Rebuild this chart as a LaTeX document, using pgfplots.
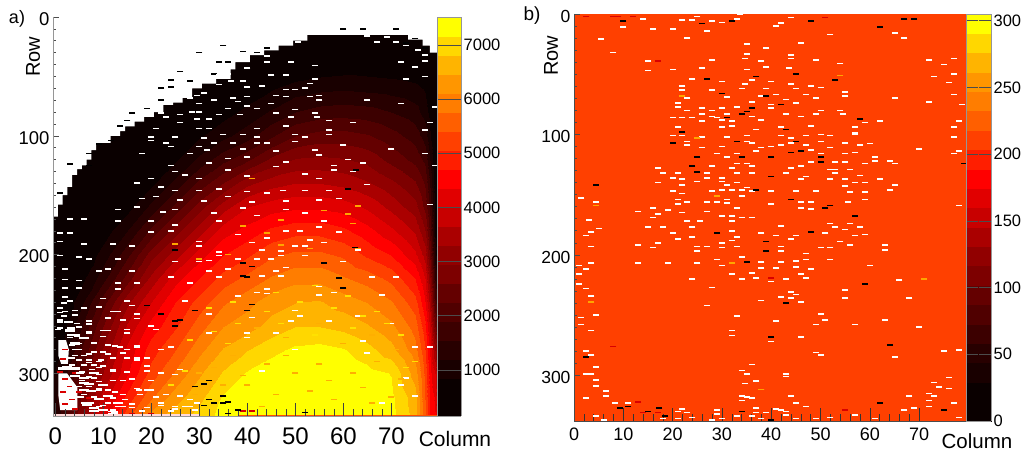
\documentclass[border=0pt]{standalone}
\usepackage{fontspec}
\setmainfont{Liberation Sans}
\usepackage{pgfplots}
\usepackage{pgfplotstable}
\pgfplotsset{compat=1.18}
\definecolor{axgray}{RGB}{150,150,150}
\pgfplotsset{
  colormap={roothot}{rgb255=(10,0,0) rgb255=(10,0,0) rgb255=(25,0,0) rgb255=(40,0,0) rgb255=(60,0,0) rgb255=(80,0,0)
    rgb255=(100,0,0) rgb255=(125,0,0) rgb255=(145,0,0) rgb255=(170,0,0) rgb255=(200,0,0)
    rgb255=(225,0,0) rgb255=(255,0,0) rgb255=(255,30,0) rgb255=(255,64,0) rgb255=(255,95,0)
    rgb255=(255,125,0) rgb255=(255,150,0) rgb255=(255,180,0) rgb255=(255,215,0) rgb255=(255,255,0)},
  colormap access=piecewise constant,
  spk/.style={only marks, mark=-, mark size=3pt, mark options={line width=1.6pt}, forget plot},
  spkw/.style={spk, color=white},
  spkk/.style={spk, color=black},
  spkr/.style={spk, color=red!85!black},
  spky/.style={spk, color=orange!70!yellow},
  spkn/.style={spk, color={rgb,255:red,255;green,175;blue,0}},
  spkm/.style={spk, color={rgb,255:red,255;green,225;blue,0}},
  spkb/.style={spk, color=white, mark size=5pt, mark options={line width=2.2pt}},
}
\pgfplotstableread[row sep=\\]{
c r v\\
-0.5 0 300\\ 5 0 300\\ 10 0 300\\ 15 0 300\\ 20 0 300\\ 25 0 300\\ 30 0 300\\ 35 0 300\\ 40 0 300\\ 45 0 300\\ 50 0 300\\ 55 0 300\\ 60 0 300\\ 65 0 300\\ 70 0 300\\ 75 0 300\\ 77 0 300\\ 78 0 300\\ 79 0 300\\ 79.5 0 300\\
-0.5 20 300\\ 5 20 300\\ 10 20 300\\ 15 20 300\\ 20 20 300\\ 25 20 300\\ 30 20 300\\ 35 20 300\\ 40 20 300\\ 45 20 300\\ 50 20 300\\ 55 20 350\\ 60 20 350\\ 65 20 350\\ 70 20 350\\ 75 20 300\\ 77 20 300\\ 78 20 300\\ 79 20 300\\ 79.5 20 300\\
-0.5 40 300\\ 5 40 300\\ 10 40 300\\ 15 40 300\\ 20 40 300\\ 25 40 300\\ 30 40 300\\ 35 40 300\\ 40 40 300\\ 45 40 350\\ 50 40 450\\ 55 40 550\\ 60 40 600\\ 65 40 600\\ 70 40 550\\ 75 40 500\\ 77 40 450\\ 78 40 350\\ 79 40 250\\ 79.5 40 250\\
-0.5 60 300\\ 5 60 300\\ 10 60 300\\ 15 60 300\\ 20 60 300\\ 25 60 300\\ 30 60 350\\ 35 60 450\\ 40 60 600\\ 45 60 800\\ 50 60 1000\\ 55 60 1100\\ 60 60 1150\\ 65 60 1100\\ 70 60 1050\\ 75 60 950\\ 77 60 800\\ 78 60 500\\ 79 60 300\\ 79.5 60 250\\
-0.5 80 200\\ 5 80 200\\ 10 80 200\\ 15 80 200\\ 20 80 300\\ 25 80 350\\ 30 80 500\\ 35 80 700\\ 40 80 950\\ 45 80 1250\\ 50 80 1550\\ 55 80 1700\\ 60 80 1750\\ 65 80 1700\\ 70 80 1550\\ 75 80 1350\\ 77 80 1050\\ 78 80 700\\ 79 80 350\\ 79.5 80 300\\
-0.5 100 200\\ 5 100 200\\ 10 100 200\\ 15 100 250\\ 20 100 350\\ 25 100 500\\ 30 100 800\\ 35 100 1100\\ 40 100 1400\\ 45 100 1850\\ 50 100 2250\\ 55 100 2400\\ 60 100 2400\\ 65 100 2300\\ 70 100 2050\\ 75 100 1750\\ 77 100 1400\\ 78 100 900\\ 79 100 400\\ 79.5 100 350\\
-0.5 120 200\\ 5 120 200\\ 10 120 200\\ 15 120 300\\ 20 120 450\\ 25 120 800\\ 30 120 1300\\ 35 120 1800\\ 40 120 2200\\ 45 120 2700\\ 50 120 3000\\ 55 120 3050\\ 60 120 3000\\ 65 120 2850\\ 70 120 2500\\ 75 120 2150\\ 77 120 1800\\ 78 120 1200\\ 79 120 500\\ 79.5 120 400\\
-0.5 140 200\\ 5 140 200\\ 10 140 250\\ 15 140 400\\ 20 140 750\\ 25 140 1300\\ 30 140 2000\\ 35 140 2600\\ 40 140 3200\\ 45 140 3500\\ 50 140 3650\\ 55 140 3650\\ 60 140 3550\\ 65 140 3350\\ 70 140 3050\\ 75 140 2650\\ 77 140 2200\\ 78 140 1500\\ 79 140 600\\ 79.5 140 450\\
-0.5 160 150\\ 5 160 200\\ 10 160 400\\ 15 160 700\\ 20 160 1300\\ 25 160 2000\\ 30 160 2800\\ 35 160 3500\\ 40 160 4000\\ 45 160 4200\\ 50 160 4300\\ 55 160 4300\\ 60 160 4200\\ 65 160 3950\\ 70 160 3550\\ 75 160 3100\\ 77 160 2500\\ 78 160 1800\\ 79 160 700\\ 79.5 160 500\\
-0.5 180 150\\ 5 180 250\\ 10 180 650\\ 15 180 1200\\ 20 180 2000\\ 25 180 2800\\ 30 180 3500\\ 35 180 4200\\ 40 180 4500\\ 45 180 4800\\ 50 180 4950\\ 55 180 4950\\ 60 180 4800\\ 65 180 4500\\ 70 180 4100\\ 75 180 3600\\ 77 180 3000\\ 78 180 2100\\ 79 180 800\\ 79.5 180 600\\
-0.5 200 150\\ 5 200 450\\ 10 200 1000\\ 15 200 1800\\ 20 200 2800\\ 25 200 3500\\ 30 200 4200\\ 35 200 4700\\ 40 200 5000\\ 45 200 5350\\ 50 200 5500\\ 55 200 5500\\ 60 200 5350\\ 65 200 5000\\ 70 200 4700\\ 75 200 4100\\ 77 200 3500\\ 78 200 2500\\ 79 200 1000\\ 79.5 200 700\\
-0.5 220 200\\ 5 220 650\\ 10 220 1400\\ 15 220 2400\\ 20 220 3400\\ 25 220 4200\\ 30 220 4700\\ 35 220 5200\\ 40 220 5500\\ 45 220 5800\\ 50 220 6000\\ 55 220 6000\\ 60 220 5800\\ 65 220 5600\\ 70 220 5300\\ 75 220 4700\\ 77 220 4000\\ 78 220 3000\\ 79 220 1500\\ 79.5 220 1200\\
-0.5 240 250\\ 5 240 1000\\ 10 240 2100\\ 15 240 3200\\ 20 240 4000\\ 25 240 4700\\ 30 240 5200\\ 35 240 5700\\ 40 240 6000\\ 45 240 6300\\ 50 240 6450\\ 55 240 6500\\ 60 240 6300\\ 65 240 6100\\ 70 240 5800\\ 75 240 5200\\ 77 240 4400\\ 78 240 3500\\ 79 240 2000\\ 79.5 240 1700\\
-0.5 260 300\\ 5 260 1400\\ 10 260 2600\\ 15 260 3700\\ 20 260 4500\\ 25 260 5000\\ 30 260 5600\\ 35 260 6100\\ 40 260 6300\\ 45 260 6600\\ 50 260 6800\\ 55 260 6800\\ 60 260 6700\\ 65 260 6500\\ 70 260 6200\\ 75 260 5600\\ 77 260 4800\\ 78 260 3900\\ 79 260 2600\\ 79.5 260 2200\\
-0.5 280 400\\ 5 280 1800\\ 10 280 3000\\ 15 280 4100\\ 20 280 4900\\ 25 280 5400\\ 30 280 6000\\ 35 280 6500\\ 40 280 6800\\ 45 280 7050\\ 50 280 7250\\ 55 280 7300\\ 60 280 7200\\ 65 280 6950\\ 70 280 6600\\ 75 280 5900\\ 77 280 5100\\ 78 280 4300\\ 79 280 3300\\ 79.5 280 2800\\
-0.5 300 800\\ 5 300 2200\\ 10 300 3300\\ 15 300 4300\\ 20 300 5200\\ 25 300 5800\\ 30 300 6400\\ 35 300 6850\\ 40 300 7200\\ 45 300 7400\\ 50 300 7500\\ 55 300 7500\\ 60 300 7450\\ 65 300 7300\\ 70 300 7150\\ 75 300 6300\\ 77 300 5300\\ 78 300 4500\\ 79 300 4000\\ 79.5 300 3500\\
-0.5 320 1000\\ 5 320 2500\\ 10 320 3800\\ 15 320 4800\\ 20 320 5700\\ 25 320 6300\\ 30 320 6700\\ 35 320 7200\\ 40 320 7400\\ 45 320 7500\\ 50 320 7600\\ 55 320 7600\\ 60 320 7500\\ 65 320 7400\\ 70 320 7250\\ 75 320 6600\\ 77 320 5400\\ 78 320 4600\\ 79 320 4300\\ 79.5 320 3800\\
-0.5 340 1200\\ 5 340 2800\\ 10 340 4200\\ 15 340 5400\\ 20 340 6400\\ 25 340 6700\\ 30 340 7000\\ 35 340 7300\\ 40 340 7450\\ 45 340 7500\\ 50 340 7600\\ 55 340 7600\\ 60 340 7500\\ 65 340 7400\\ 70 340 7300\\ 75 340 6700\\ 77 340 5500\\ 78 340 4700\\ 79 340 4400\\ 79.5 340 4000\\
}\leftmesh
\pgfplotstableread[row sep=\\]{
c r v\\
0 0 205\\ 80 0 205\\
0 340 205\\ 80 340 205\\
}\rightmesh
\begin{document}
\begin{tikzpicture}[x=1pt,y=1pt]
\useasboundingbox (0,0) rectangle (1025,452);
\begin{axis}[
  at={(53pt,36pt)}, anchor=south west, scale only axis, width=384pt, height=399pt,
  xmin=-0.5, xmax=79.5, ymin=0, ymax=336, y dir=reverse, clip=true, axis on top,
  point meta min=150, point meta max=7517,
  axis x line*=bottom, axis y line*=left,
  axis line style={axgray, -, line width=0.9pt},
  xtick={0,10,...,70}, ytick=\empty,
  minor x tick num=4,
  tick align=inside, tick style={black!75, line width=0.5pt},
  major tick length=13pt, minor tick length=7pt,
  xticklabel style={font=\fontsize{24}{24}\selectfont, yshift=-8pt},
  /pgf/number format/assume math mode=true,
  colorbar,
  colorbar style={at={(parent axis.right of north east)}, anchor=north west, xshift=-9pt,
    width=24pt, ytick={1000,2000,...,7000}, y dir=normal, scale only axis,
    yticklabel pos=right, tick align=inside, major tick length=13pt,
    tick style={black!70, line width=0.6pt},
    axis line style={axgray},
    yticklabel style={font=\fontsize{16.5}{16.5}\selectfont, xshift=-1pt},
    /pgf/number format/1000 sep={}, /pgf/number format/assume math mode=true},
]
\addplot[surf, shader=interp, mesh/cols=20, point meta=explicit, forget plot] table[x=c,y=r,meta=v] {\leftmesh};
\addplot[const plot, fill=white, draw=none, forget plot] coordinates {
 (-0.5,168)(0.5,158)(1.5,150)(2.5,143)(3.5,133)(4.5,128)(5.5,125)(6.5,120)(7.5,112)(8.5,106)(10.5,106)(11.5,100)(13.5,96)(14.5,92)(16.5,88)(18.5,84)(20.5,80)(22.5,74)(24.5,72)(26.5,68)(28.5,60)(30.5,56)(33.5,52)(36.5,44)(37.5,38)(40.5,32)(43.5,28)(46.5,24)(49.5,20)(52.5,15)(70,15)(73.5,19)(76.5,24)(78,30)(79.5,39)(79.5,-2)(-0.5,-2)};
\addplot[fill=white, draw=none, forget plot] coordinates {(0.6,272)(2.2,272)(2.8,280)(2.6,292)(1.2,292)(0.6,285)};
\addplot[fill=white, draw=none, forget plot] coordinates {(0.6,300)(2.4,300)(3.5,306)(4.6,312)(4.6,331)(1,331)(0.6,318)};
\addplot[spkb] coordinates {(3,296)(4,302)(6,308)(6,314)(5,320)(6.5,327)(8,332)(12,333)(3,287)(1.5,296)(4,275)(2.5,295)(4,296)(5,300)(6,304)(7,309)(7.5,315)(7,325)(8,329)(10,331)(9,322)(11,319)(4,268)(3,264)(6,270)(8,300)(10,310)(13,325)};
\addplot[spkr] coordinates {(2,305)(3,311)(1.5,316)(3.5,322)(2,326)(4,300)(2,280)(1.5,288)(4,330)(5,316)(7,321)(1,299)};
% black outliers above the edge
\addplot[spkk] coordinates {(60,10)(64,10)(71,10)(30,30)(35,24)(39,29)(34,38)(26,46)(24,53)(28,54)(22,60)(24,59)(22,70)(16,81)(13.5,92)(11.5,104)(7,115)(3,124)(7,125)(75,18)(73,22)(77,26)(44,26)(42,30)(33,48)(36,38)(19,77)(15,87)(9,107)(1,148)};
% white dead pixels
\addplot[spkw] coordinates {(48.5,21)(50.5,21)(65,16)(67,21)(69,17)(71,21)(73,24)(75.5,28)(77,32)(72,38)(75,42)(77,37)(41,28)(44,33)(44,38)(49,38)(40,43)(45,49)(48,49)(54,41)(54,52)(53,56)(73,52)(77,50)(34,49)(36,48)(36.5,54)(39,54)(40,59)(43,58)(34,57)(31,64)(29.5,66)(48,61)(50,61)(52,60)(48,67)(46,66)(55,66)(55,70)(53,67)(65,70)(72,73)(79,76)(28,68)(30,73)(33,70)(37,68)(40,67)(38,71)(40,75)(42,77)(45,73)(50,78)(54,81)(54.5,84)(22,81)(23,84)(26,82)(28.5,80)(30,80)(29.5,86)(32,86)(34,82)(36,77)(38.5,82)(49,84)(46,81)(62,89)(57,87)(78,89)(21,94)(26,89)(30,94)(32,94)(42,94)(48,92)(57,95)(77,95)(20,101)(25,101)(31,102)(35,99)(39,99)(42,101)(50,99)(52,101)(57,99)(20,104)(23,106)(24,109)(30,109)(33,106)(37,106)(42,106)(44,106)(50,105)(60,108)(70,111)(18,115)(28,115)(31.5,112)(39,111)(46,113)(54,112)(77,115)(79,125)(24,125)(32,123)(36,119)(40,118)(48,122)(55,116)(58,125)(61,120)(64,123)(20,136)(25,130)(27,133)(30,136)(36,129)(40,134)(46,126)(52,132)(55,136)(58,129)(62,130)(17,140)(22,143)(25,146)(30,146)(34,145)(40,147)(44,148)(47.5,146)(52,146)(57,146)(65,141)(18,153)(21,151)(26,154)(31,155)(36,151)(41,156)(48,155)(55,154)(59,153)(78,158)(13,162)(17,160)(22.5,164)(25,162)(33,165)(39,161)(48,162)(52,165)(3,170)(6,170)(13,172)(20,172)(25,175)(34,172)(42,167)(56,172)};
\addplot[spkw] coordinates {(1,182)(3,182)(12,191)(6,191)(1,189)(16,193)(20,181)(24,180)(30,189)(30,193)(34,198)(38,183)(41,190)(48,180)(51,180)(55,177)(59,181)(56,190)(53,188)(50,193)(52,193)(43,196)(47,197)(44,186)(5,202)(1,201)(7,204)(13,204)(25,206)(30,206)(32,205)(34,201)(38,204)(42,204)(45,204)(47,201)(52,201)(60,206)(63,196)(9,214)(11,212)(2,212)(16,214)(32,214)(36,212)(43,218)(46,214)(48,211)(24,219)(34,219)(47,218)(66,219)(71,219)(2,221)(5,222)(2,228)(13,224)(17,224)(5,228)(13,229)(28,224)(44,229)(55,227)(58,232)(44,233)(42,232)(38,235)(55,234)(68,234)(2,236)(3,239)(10,237)(15,239)(27,239)(1,249)(6,245)(9,244)(12,248)(13,248)(16,243)(50,247)(63,252)(1,255)(2.5,257)(7,259)(11,253)(17,250)(17,254)(32,250)(41,253)(51,252)(57,256)(49,256)(70,258)(0.5,263)(3.5,262)(7,265)(11,264)(15,263)(20,260)(21,263)(32,266)(40,266)(46,266)(15,266)(40,270)(3,270)(8,274)(12.5,277)(17,277)(22,280)(64,273)(75,278)(78,278)(50,280)(24,278)(65,283)(4,280)(7,284)(11,284)(14,283)(17,287)(7,291)(9,290)(19,294)(22,300)(26,297)(73,304)(43,298)(72,310)(9,295)(12,298)(5,300)(8,304)(15,299)(19,298)(16,305)(20,306)(25,301)(4,311)(9,314)(17.5,314)(20,314)(23,318)(26,319)(28,322)(68,325)(75,319)(10,327)(13,328)(16,326)(19,329)(22,327)(25,330)(28,328)(12,331)(18,332)(24,332)(29,331)};
\addplot[spkw] coordinates {(1.7,241)(1,245)(2,248)(4,247)(1.7,252)(4,251)(1,257)(3,257)(4.5,258)(7,258)(1,262)(3,262)(5,261)(7,256)(7,266)(4.5,269)(3,268)(10,264)(11,254)(14,255)(10,269)(5,275)(3.5,276)(5,280)(8,275)(11,276)(4,285)(6,285)(8,282)(10,282)(13.5,278)(15,280)(17,278)(5,289)(7,289)(9.4,289)(12,287)(15,287)(17,289)(19,287)(3.5,293)(6,293)(8,293)(10,294)(12,297)(7.6,297)(5.5,299)(9,301)(7,303)(5.5,306)(9,307)(12,306)(14,306)(5,311)(7,311)(9,313)(11,314)(12.5,316)(14,318)(17,313)(19,314)(6,318)(8,320)(12,321)(14.5,322)(17.7,318)(21,320)(6,325)(9,328)(11,325)(14,328)(16,329)(19,329)(22,325)(25,328)(27,328)(29.5,325)};
\addplot[spky] coordinates {(61,166)(47,171)(41,136)(63,159)(56,163)(62,174)(30,204)(25,191)(63,195)(47,192)(39,176)(44,182)(53,195)(36,200)};
\addplot[spkn] coordinates {(42,262)(48,270)(55,258)(60,275)(66,268)(71,280)(37,285)(44,292)(50,300)(55,292)(62,300)(67,290)(72,305)(40,310)(46,318)(53,315)(58,322)(64,312)(70,320)(30,300)(35,310)(33,295)(48,285)(57,306)(66,325)(43,328)(29,318)(39,302)};
\addplot[spkm] coordinates {(32,245)(37,240)(44,248)(51,240)(58,245)(64,252)(69,258)(38,258)(46,232)(54,226)(61,235)(28,272)(33,265)(72,268)(75,290)(73,295)(27,298)(36,275)(24,310)(67,248)(47,258)(54,268)(62,262)};
\addplot[spkr] coordinates {(11,333)(16,334)(20,334)(41,332)(39,332)};
\addplot[spkk] coordinates {(61,145)(62.7,129)(39,207)(39,218)(40,219)(56,207)(41,242)(40,247)(29,247)(19,243)(22,250)(25,256)(26,255)(25,260)(32,306)(31,309)(29,311)(35,319)(32,322)(33,325)(36,324)(31,327)(38,331)(52,333)(35,325)(59,220)(60,228)(25,196)(62.5,194)(41,210)(36,334)};
\addplot[orange!60!red, line width=1pt, forget plot] coordinates {(38,335.5)(79.5,335.5)};
\addplot[red!15!white, line width=2pt, forget plot] coordinates {(-0.5,335)(30,335)};
\end{axis}
\begin{axis}[
  at={(53pt,36pt)}, anchor=south west, scale only axis, width=384pt, height=399pt,
  xmin=-0.5, xmax=79.5, ymin=0, ymax=336, y dir=reverse, axis on top,
  axis line style={axgray, -, line width=0.9pt},
  axis y line*=left, axis x line*=bottom, xtick=\empty, ytick={0,100,200,300}, minor y tick num=9,
  tick align=inside, major tick length=5.5pt, minor tick length=3pt,
  tick style={black!70, line width=0.5pt},
  yticklabel style={font=\fontsize{18.5}{18.5}\selectfont, yshift=-2pt},
  /pgf/number format/assume math mode=true,
]
\end{axis}
\begin{axis}[
  at={(574pt,31pt)}, anchor=south west, scale only axis, width=392pt, height=407pt,
  xmin=0, xmax=79.5, ymin=0, ymax=338, y dir=reverse, clip=true, axis on top,
  point meta min=0, point meta max=305,
  axis x line*=bottom, axis y line*=left,
  axis line style={black!70, -, line width=0.8pt},
  xtick={0,10,...,70}, ytick=\empty,
  minor x tick num=4,
  tick align=inside, tick style={black!80, line width=0.5pt},
  major tick length=13pt, minor tick length=7pt,
  xticklabel style={font=\fontsize{18}{18}\selectfont, yshift=-3pt},
  /pgf/number format/assume math mode=true,
  colorbar,
  colorbar style={at={(parent axis.right of north east)}, anchor=north west, xshift=-9pt,
    width=25pt, ytick={0,50,...,300}, y dir=normal, scale only axis,
    yticklabel pos=right, tick align=inside, major tick length=12pt,
    tick style={black!70, line width=0.6pt},
    axis line style={axgray},
    yticklabel style={font=\fontsize{16.5}{16.5}\selectfont, xshift=-1pt},
    /pgf/number format/assume math mode=true},
]
\addplot[surf, shader=flat, mesh/cols=2, point meta=explicit, forget plot] table[x=c,y=r,meta=v] {\rightmesh};
\addplot[spkw] coordinates {(33.6,0)(25,2)(14,4)(10,11)(16,12.5)(20,12.5)(22,5)(24,5)(28,6)(30,7)(33,4)(27,14)(42,7.5)(41,10)(44,3)(65,16)(52,17)(5.5,21)(23,20)(67,20)(46,24)(35,25)(39,28)(8,32)(35,33)(34.6,37)(44,34)(44,37)(28,38)(49,38)(38,39)(15,39)(54,41)(72,38)(77,37)(75,42)(15,47)(20,46)(26,45)(35,46)(39,44)(43.5,45)(73,52)(77,50)(76,57)(24,54)(30,56)(36,55)(40,56)(44,58)(34.6,58)(22,60)(22,63)(28,63)(34,62)(39,62)(45,62)(48,60)(50,61)(47,67)(41,67)(38,68)(31,69)(55,65)(55,68)(65,70)(72,73)(77,67)(78.7,75)(21,74)(21,77)(23,70)(23,80)(26,78)(28,80)(30,78)(33,77)(36,73)(40,75)(43,71)(45,74)(49,70)(50,80)(54,80)(40,78)(26,83)(28,85)(29,86)(31,83)(20,86)(22,86)(24,86)(26,89)(30,88)(32,89)(36,85)(38,88)(43,83)(46,85)(49,83)(54.5,83)(57,94)(59,90)(62,89)(78,89)(21,94)(30,94)(32,93)(37,96)(42,94)(48,93)(57,99)(77,94)(20,101)(22,101)(26,102)(31,102)(35,101)(42,101)(44,103)(47,101)(50,100)(52,101)(57,100)(77,102)(23,106)(23,109)(30,110)(35,106)(36,107)(38,111)(40,110)(42,109)(44,107)(47,109)(50,106)(52,111)(55,107)(58,109)(60,107.5)(70,112)(26,111)(29,116)(33,116)(37,114)(48,113)(50,116)(55,116)(57,115)(78,114)(77,116)(31,119)(33,124)(35,124)(48,123)(53,123)(55,123)(59,124)(61,119)(61,122)(64,122)(65,124)(17,128)(28,126)(32,128)(36,126)(44,128)(46,126)(52,129)(53,129)(56,129)(18,132)(21,132)(27,132)(30,136)(33,132)(36,132)(43,132)(47,135)(53,132)(58,134)(20,136)(22,137)(27,136)(30,139)(46,137)(52,137)(55,137)(57,140)(59,140)(62,137)(65,142)(17,140)(22,142)(25,139)(31,142)(33,140)(35,144)(40,147)(45,147)(49,147)(55,143)(56,148)(59,148)(64,146)(20,147)(22,149)(28,147)(30,146)(32,146)(34,146)(36,147)(34,151)(31,154)(1.5,153)(21,154)(27,156)(29,156)(40,158)(46,156)(48,156)(55.5,156)(59,154)(4.4,156)(78,159)(21,158)(23,156)(31,157)(33,161)(46,161)(48,162)(13,164)(16,161)(19,163)(17,166)(22,165)(27,164)(30,168)(32,168)(34,169)(36,169)(3,171)(16,169)(23,172)(25.5,172)(32,172)(52,174)(56,174)};
\addplot[spkw] coordinates {(15,177)(18,177)(24,177)(32,180)(42,176)(53,177)(55,179)(58,177)(59,183)(57,184)(51,182)(38,182)(41,184)(45,184)(3.5,181)(5,178)(2.4,184)(20,182)(21,187)(24,185)(33,185)(44,187)(32,188)(17,190)(16,194)(13,192)(3.5,193)(27,193)(30,190)(30,194)(25,193)(33,193)(54,189)(56,192)(50,194)(52,194)(63,192)(63,196)(42,193)(42,197)(47,199)(25,197)(1,209)(3.5,207)(13,207)(19,207)(25,207)(29,204)(30,209)(34,202)(38,206)(38,211)(41,211)(42,206)(45,205)(45,210)(47,204)(48,212)(52,204)(60,209)(2.4,212)(1,216)(32,216)(36,215)(46,216)(24,220)(34,220)(37,219)(40,222)(43,220)(47,219)(66,221)(1,224)(2.4,228)(28,227)(55,229)(3.5,234)(42,235)(44,231)(45,233)(44,236)(55,236)(68,236)(38,238)(46,239)(27,242)(50,249)(4.4,250)(1.4,252)(33,251)(51,254)(41,255)(63,254)(1.4,258)(70,260)(49,258)(57,258)(3.5,263)(32,263)(32,267)(46,268)(40,272)(2.4,280)(3.5,283)(49,281)(50,283)(75,280)(78,279)(65,285)(4.4,293)(36,291)(2.4,299)(3.5,299)(34,296)(35,299)(43,299)(43,301)(4.4,304)(37,305)(76,302)(73,306)(4.4,309)(34.6,307)(74,310)(76,311)(6.4,313)(38,312)(6.4,317)(72,315)(73,317)(68,317)(44,317)(35,318)(34,317)(36,319)(2.4,319)(34,321)(72,321)(45,323)(8.3,323)(11,323)(77,323)(47,326)(37,327)(72,326)(69,327)(29,329)(22,328)(41,328)(42,329)(43,330)(67,329)(21,330)(23,331)(29,332)(37,331)(39,331)(43,333)(45,336)(49,336)(30,336)(4.4,334)(6,337)(33,334)(24,335)(21,336)(18,336)(36,334)(61,336)(38,336)(78,335)(52,335)(57,333)(28,337)};
\addplot[spkk] coordinates {(10,6)(26,8)(32,6)(48,6)(67,4)(69,4)(62,11)(45,50)(37,52)(53,55)(27,54)(39,68)(36,78)(34,83)(35,81)(31,86)(42,75)(43,96)(22,98)(20,107)(33,106)(45,106)(46,114)(44,115)(34,119)(40,119)(50,119)(50,123)(25,119)(24,126)(25,131)(40,135)(4.4,142)(37,146)(44,154)(51,161)(52,159)(57,168)(79,124)(58,87)(30,66)(48,181)(39,189)(39,197)(29,182)(35,206)(59,224)(43,240)(40,268)(64,275)(2.4,285)(62,323)(11,326)(9.4,327)(17.3,327)(15,330)(34,330)(75,329)(18.5,334)(40,337)};
\addplot[spkr] coordinates {(2.5,2)(8,2)(9,2)(12,2)(17,39)(51,3)(14,331)(17,331)(55,329)(8,276)(13,322)(40,219)};
\addplot[spky] coordinates {(25,103)(22,68)(29,151)(4.4,159)(54,51)(3.5,239)(32,207)(71,220)(38,312)};
\end{axis}
\begin{axis}[
  at={(574pt,31pt)}, anchor=south west, scale only axis, width=392pt, height=407pt,
  xmin=0, xmax=79.5, ymin=0, ymax=338, y dir=reverse, axis on top,
  axis line style={black!70, -, line width=0.8pt},
  axis y line*=left, axis x line*=bottom, xtick=\empty, ytick={0,100,200,300}, minor y tick num=9,
  tick align=inside, major tick length=5.5pt, minor tick length=3pt,
  tick style={black!70, line width=0.5pt},
  yticklabel style={font=\fontsize{17.5}{17.5}\selectfont, yshift=-2.5pt},
  /pgf/number format/assume math mode=true,
]
\end{axis}
\node[font=\fontsize{18}{18}\selectfont] at (17,433) {a)};
\node[font=\fontsize{19}{19}\selectfont] at (532,436) {b)};
\node[font=\fontsize{20}{20}\selectfont, rotate=90] at (33,395) {Row};
\node[font=\fontsize{20}{20}\selectfont, rotate=90] at (551,396) {Row};
\node[font=\fontsize{21}{21}\selectfont] at (455,13) {Column};
\node[font=\fontsize{20.5}{20.5}\selectfont] at (977,11) {Column};
\end{tikzpicture}
\end{document}
